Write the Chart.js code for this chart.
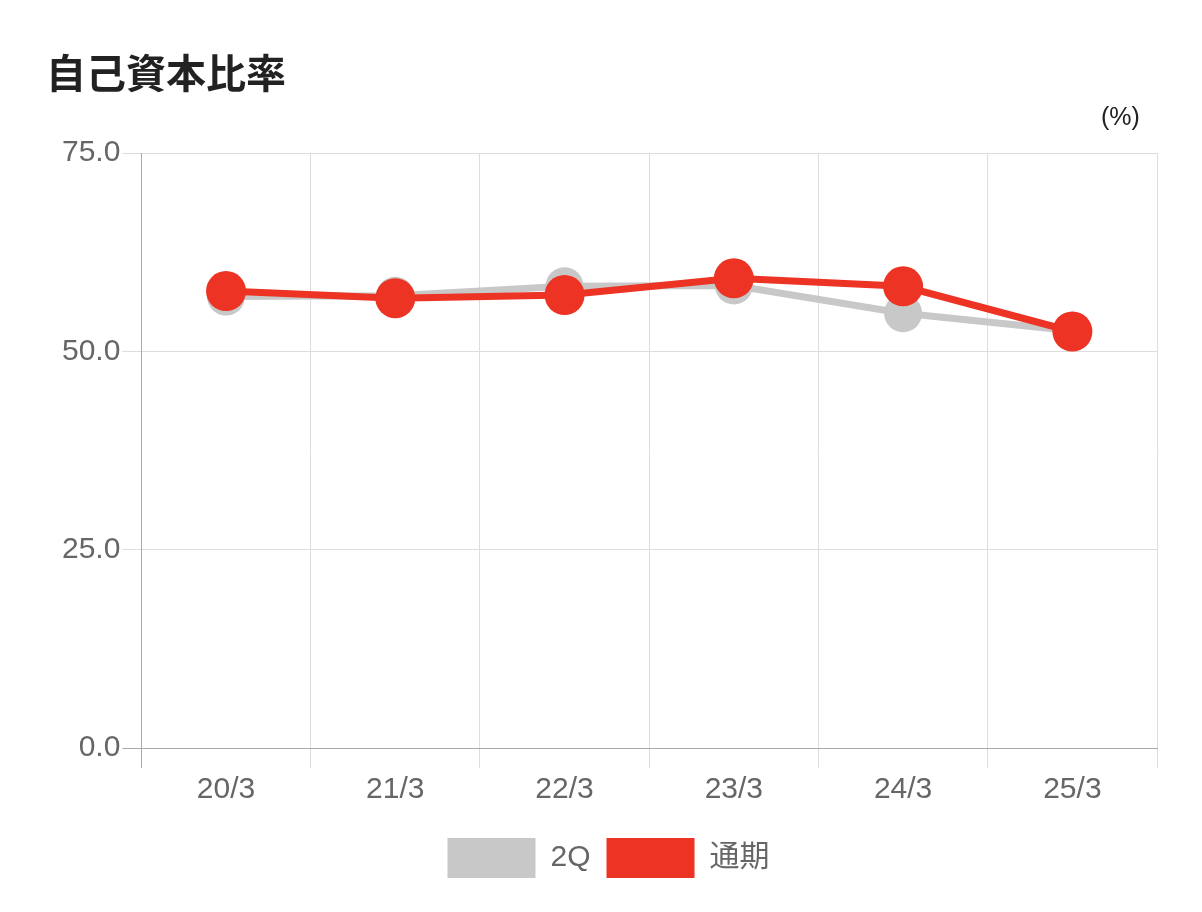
<!DOCTYPE html>
<html lang="ja">
<head>
  <meta charset="UTF-8">
  <title>自己資本比率</title>
  <script src="https://cdn.jsdelivr.net/npm/chart.js"></script>
  <style>
    body { margin: 0; background: #fff; font-family: "Liberation Sans", "Noto Sans CJK JP", sans-serif; }
    #wrap { position: relative; width: 1202px; height: 912px; }
    #title { position: absolute; left: 46px; top: 47px; font-size: 40px; font-weight: bold; color: #222; font-family: "Noto Sans CJK JP", sans-serif; line-height: 1.2; }
    #unit { position: absolute; left: 1101px; top: 102px; font-size: 25px; color: #222; }
    canvas { position: absolute; left: 0; top: 0; }
  </style>
</head>
<body>
  <div id="wrap">
    <canvas id="ratioChart" width="1202" height="912"></canvas>
    <div id="title">自己資本比率</div>
    <div id="unit">(%)</div>
  </div>

  <script>
    const labels = ['20/3', '21/3', '22/3', '23/3', '24/3', '25/3'];
    const halfYear = [56.9, 57.0, 58.2, 58.3, 54.8, 52.6];
    const fullYear = [57.6, 56.7, 57.1, 59.2, 58.2, 52.5];
    const yTicks = [0, 25, 50, 75];

    const fontFamily = '"Liberation Sans", "Noto Sans CJK JP", sans-serif';
    const gray = '#c8c8c8';
    const red = '#ec3324';

    new Chart(document.getElementById('ratioChart'), {
      type: 'line',
      data: {
        labels: labels,
        datasets: [{
          label: '2Q',
          data: halfYear,
          borderColor: gray,
          backgroundColor: gray,
          borderWidth: 7,
          pointRadius: 19,
          pointBorderWidth: 0,
          pointBackgroundColor: gray,
          tension: 0,
          order: 1
        }, {
          label: '通期',
          data: fullYear,
          borderColor: red,
          backgroundColor: red,
          borderWidth: 7,
          pointRadius: 20,
          pointBorderWidth: 0,
          pointBackgroundColor: red,
          tension: 0,
          order: 0
        }]
      },
      options: {
        responsive: false,
        animation: false,
        layout: { padding: { left: 60, right: 45, top: 153, bottom: 24 } },
        plugins: {
          tooltip: { enabled: false },
          legend: {
            position: 'bottom',
            labels: {
              boxWidth: 88,
              boxHeight: 40,
              padding: 16,
              color: '#666',
              font: { size: 30, family: fontFamily },
              sort: (a, b) => a.datasetIndex - b.datasetIndex,
              generateLabels: chart => {
                const items = Chart.defaults.plugins.legend.labels.generateLabels(chart);
                items.forEach(it => { it.lineWidth = 0; });
                return items;
              }
            }
          }
        },
        scales: {
          x: {
            offset: true,
            afterFit: axis => { axis.height += 10; },
            grid: {
              offset: true,
              tickLength: 20,
              color: ctx => ctx.index === 0 ? '#aaa' : '#ddd'
            },
            border: { color: '#aaa' },
            ticks: { color: '#666', padding: 4, font: { size: 30, family: fontFamily } }
          },
          y: {
            min: 0,
            max: 75,
            afterBuildTicks: axis => { axis.ticks = yTicks.map(v => ({ value: v })); },
            grid: {
              tickLength: 19,
              color: ctx => ctx.tick && ctx.tick.value === 0 ? '#aaa' : '#ddd'
            },
            border: { color: '#aaa' },
            ticks: {
              color: '#666',
              padding: 2,
              font: { size: 30, family: fontFamily },
              callback: v => Number(v).toFixed(1)
            }
          }
        }
      }
    });
  </script>
</body>
</html>
